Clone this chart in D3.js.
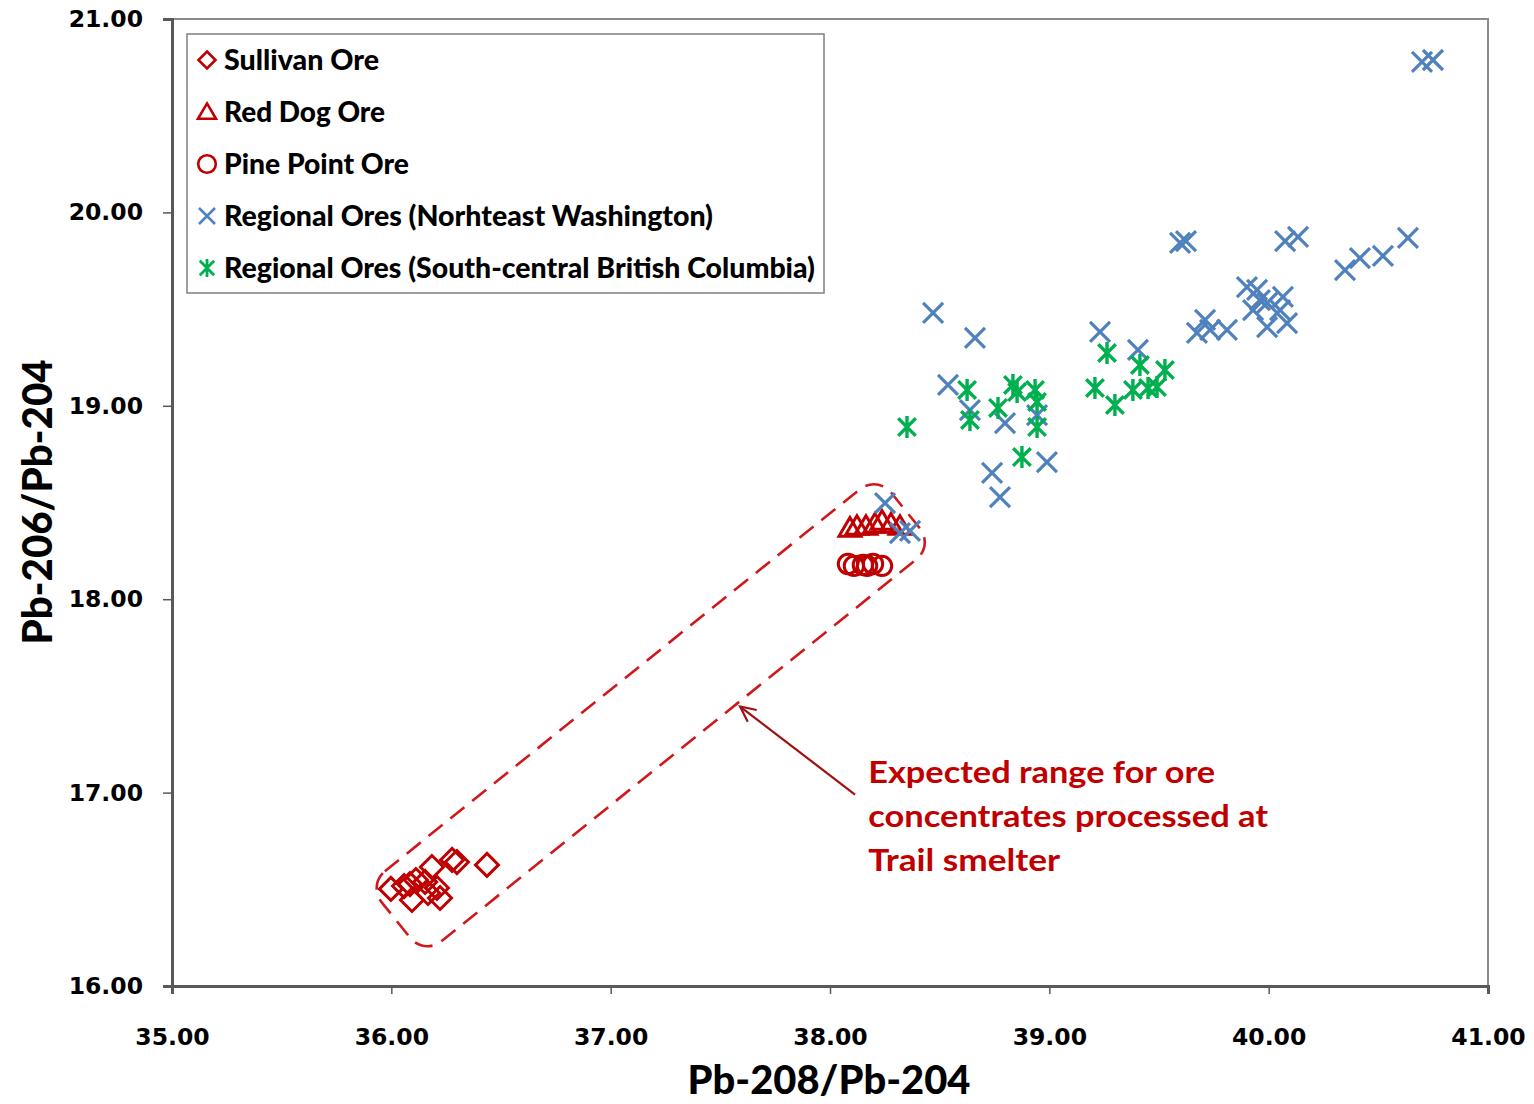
<!DOCTYPE html>
<html>
<head>
<meta charset="utf-8">
<script src="https://cdn.jsdelivr.net/npm/d3@7"></script>
<style>
  body { margin: 0; background: #fff; }
  svg { display: block; }
</style>
</head>
<body>
<svg id="chart" width="1534" height="1104"></svg>
<script>
// Data: [Pb-208/Pb-204, Pb-206/Pb-204]
const sullivan = [
  [35.998, 16.502], [36.058, 16.517], [36.085, 16.527], [36.112, 16.548],
  [36.094, 16.445], [36.154, 16.538], [36.185, 16.615], [36.208, 16.507],
  [36.222, 16.455], [36.277, 16.652], [36.299, 16.641], [36.436, 16.626],
  [36.167, 16.481]
];
const redDog = [
  [38.091, 18.368], [38.123, 18.378], [38.164, 18.378], [38.205, 18.389],
  [38.237, 18.404], [38.278, 18.389], [38.319, 18.378]
];
const pinePoint = [
  [38.082, 18.182], [38.109, 18.172], [38.150, 18.177], [38.169, 18.172],
  [38.196, 18.182], [38.237, 18.172]
];
const neWashington = [
  [38.251, 18.497], [38.319, 18.342], [38.365, 18.353],
  [38.470, 19.480], [38.538, 19.108], [38.638, 18.978], [38.661, 19.351],
  [38.798, 18.911], [38.944, 18.952], [38.739, 18.653], [38.775, 18.528],
  [38.989, 18.709], [39.231, 19.382], [39.404, 19.289],
  [39.596, 19.842], [39.623, 19.852], [40.075, 19.852], [40.134, 19.873],
  [40.348, 19.702], [40.416, 19.764], [40.521, 19.775], [40.635, 19.868],
  [40.699, 20.778], [40.749, 20.788],
  [39.710, 19.444], [39.673, 19.377], [39.733, 19.392], [39.810, 19.392],
  [39.901, 19.614], [39.947, 19.599], [39.960, 19.547], [39.929, 19.495],
  [39.993, 19.532], [40.065, 19.563], [40.052, 19.495], [39.993, 19.407],
  [40.084, 19.428]
];
const scBritishColumbia = [
  [38.351, 18.890], [38.625, 19.082], [38.638, 18.927], [38.766, 18.989],
  [38.834, 19.108], [38.853, 19.071], [38.935, 19.082], [38.944, 19.020],
  [38.944, 18.890], [38.875, 18.735], [39.208, 19.092], [39.263, 19.273],
  [39.299, 19.004], [39.381, 19.082], [39.413, 19.211], [39.450, 19.092],
  [39.491, 19.097], [39.527, 19.185]
];

const xTicks = [35, 36, 37, 38, 39, 40, 41];
const yTicks = [16, 17, 18, 19, 20, 21];

const seriesNames = [
  "Sullivan Ore",
  "Red Dog Ore",
  "Pine Point Ore",
  "Regional Ores (Norhteast Washington)",
  "Regional Ores (South-central British Columbia)"
];

// Dashed band around expected range (end centres, in data units)
const bandEnds = [[36.021, 16.341], [38.344, 18.459]];
// Arrow: tail -> head
const arrowPts = [[38.114, 16.99], [37.59, 17.445]];
const noteLines = ["Expected range for ore", "concentrates processed at", "Trail smelter"];

const svg = d3.select("#chart");
const red = "#C00000", blue = "#4F81BD", green = "#00B050";

const x = d3.scaleLinear().domain([35, 41]).range([172, 1488]);
const y = d3.scaleLinear().domain([16, 21]).range([986, 19]);

// plot border (top & right)
svg.append("path")
  .attr("d", `M${x(35)},${y(21)}H${x(41)}V${y(16)}`)
  .attr("fill", "none").attr("stroke", "#8c8c8c").attr("stroke-width", 2);

// axes
const xAxis = svg.append("g")
  .attr("transform", `translate(0,${y(16)})`)
  .call(d3.axisBottom(x).tickValues(xTicks).tickSize(8).tickPadding(34).tickFormat(d3.format(".2f")));
const yAxis = svg.append("g")
  .attr("transform", `translate(${x(35)},0)`)
  .call(d3.axisLeft(y).tickValues(yTicks).tickSize(9).tickPadding(20).tickFormat(d3.format(".2f")));

[xAxis, yAxis].forEach(g => {
  g.select(".domain").attr("stroke", "#595959").attr("stroke-width", 3);
  g.selectAll(".tick line").attr("stroke", "#595959").attr("stroke-width", 1.5);
  g.selectAll(".tick text")
    .attr("fill", "#000")
    .style("font-family", "'DejaVu Sans', Verdana, sans-serif")
    .style("font-weight", "bold")
    .style("font-size", "23.5px");
});

// axis titles
svg.append("text")
  .attr("x", 829).attr("y", 1094)
  .attr("text-anchor", "middle")
  .attr("textLength", 283).attr("lengthAdjust", "spacingAndGlyphs")
  .style("font-family", "Lato, sans-serif").style("font-weight", "900").style("font-size", "40px")
  .text("Pb-208/Pb-204");

svg.append("text")
  .attr("transform", "translate(52,502) rotate(-90)")
  .attr("text-anchor", "middle")
  .attr("textLength", 285).attr("lengthAdjust", "spacingAndGlyphs")
  .style("font-family", "Lato, sans-serif").style("font-weight", "900").style("font-size", "41px")
  .text("Pb-206/Pb-204");

// dashed band
const p0 = [x(bandEnds[0][0]), y(bandEnds[0][1])];
const p1 = [x(bandEnds[1][0]), y(bandEnds[1][1])];
const len = Math.hypot(p1[0] - p0[0], p1[1] - p0[1]);
const ang = Math.atan2(p1[1] - p0[1], p1[0] - p0[0]) * 180 / Math.PI;
const bandW = 90;
svg.append("rect")
  .attr("transform", `translate(${(p0[0] + p1[0]) / 2},${(p0[1] + p1[1]) / 2}) rotate(${ang})`)
  .attr("x", -len / 2).attr("y", -bandW / 2)
  .attr("width", len).attr("height", bandW)
  .attr("rx", 22).attr("ry", 22)
  .attr("fill", "none").attr("stroke", "#D0181C").attr("stroke-width", 2.6)
  .attr("stroke-dasharray", "18,10");

// marker shapes
function drawMarker(g, type, s, color, sw) {
  if (type === "diamond") {
    g.append("path").attr("d", `M0,${-s}L${s},0L0,${s}L${-s},0Z`)
      .attr("fill", "none").attr("stroke", color).attr("stroke-width", sw);
  } else if (type === "triangle") {
    g.append("path").attr("d", `M0,${-s * 0.95}L${s},${s * 0.75}L${-s},${s * 0.75}Z`)
      .attr("fill", "none").attr("stroke", color).attr("stroke-width", sw);
  } else if (type === "circle") {
    g.append("circle").attr("r", s * 0.88)
      .attr("fill", "none").attr("stroke", color).attr("stroke-width", sw);
  } else if (type === "x") {
    g.append("path").attr("d", `M${-s},${-s}L${s},${s}M${s},${-s}L${-s},${s}`)
      .attr("stroke", color).attr("stroke-width", sw);
  } else if (type === "star") {
    const a = s * 0.8;
    g.append("path").attr("d", `M${-a},${-a}L${a},${a}M${a},${-a}L${-a},${a}M0,${-s}V${s}`)
      .attr("stroke", color).attr("stroke-width", sw);
  }
}

const series = [
  { data: sullivan, type: "diamond", color: red, size: 11.5, sw: 3 },
  { data: redDog, type: "triangle", color: red, size: 11, sw: 3 },
  { data: pinePoint, type: "circle", color: red, size: 11, sw: 3 },
  { data: neWashington, type: "x", color: blue, size: 10, sw: 3.2 },
  { data: scBritishColumbia, type: "star", color: green, size: 11, sw: 3.4 }
];

series.forEach(s => {
  svg.append("g").selectAll("g")
    .data(s.data)
    .enter()
    .append("g")
    .attr("transform", d => `translate(${x(d[0])},${y(d[1])})`)
    .each(function () { drawMarker(d3.select(this), s.type, s.size, s.color, s.sw); });
});

// arrow
const a0 = [x(arrowPts[0][0]), y(arrowPts[0][1])];
const a1 = [x(arrowPts[1][0]), y(arrowPts[1][1])];
svg.append("line")
  .attr("x1", a0[0]).attr("y1", a0[1]).attr("x2", a1[0]).attr("y2", a1[1])
  .attr("stroke", "#A01010").attr("stroke-width", 2.2);
const th = Math.atan2(a0[1] - a1[1], a0[0] - a1[0]);
const headLen = 17, spread = 0.45;
svg.append("path")
  .attr("d", `M${a1[0] + headLen * Math.cos(th - spread)},${a1[1] + headLen * Math.sin(th - spread)}` +
             `L${a1[0]},${a1[1]}` +
             `L${a1[0] + headLen * Math.cos(th + spread)},${a1[1] + headLen * Math.sin(th + spread)}`)
  .attr("fill", "none").attr("stroke", "#A01010").attr("stroke-width", 2.2);

// note text
const noteWidths = [347, 400, 192];
svg.append("g").selectAll("text")
  .data(noteLines)
  .enter()
  .append("text")
  .attr("x", x(38.174))
  .attr("y", (d, i) => y(17.05) + i * 44)
  .attr("textLength", (d, i) => noteWidths[i]).attr("lengthAdjust", "spacingAndGlyphs")
  .attr("fill", red)
  .style("font-family", "Lato, sans-serif").style("font-weight", "bold").style("font-size", "31px")
  .text(d => d);

// legend
const legend = svg.append("g");
legend.append("rect")
  .attr("x", 187).attr("y", 34).attr("width", 637).attr("height", 259)
  .attr("fill", "#fff").attr("stroke", "#7f7f7f").attr("stroke-width", 1.5);
const legWidths = [155, 161, 185, 489, 591];
const legMarker = [
  { type: "diamond", size: 8.5, sw: 2.6 }, { type: "triangle", size: 9, sw: 2.6 },
  { type: "circle", size: 10, sw: 2.6 }, { type: "x", size: 8, sw: 2.6 }, { type: "star", size: 9, sw: 2.8 }
];
seriesNames.forEach((name, i) => {
  const cy = 60 + i * 52;
  const g = legend.append("g").attr("transform", `translate(207,${cy})`);
  drawMarker(g, legMarker[i].type, legMarker[i].size, series[i].color, legMarker[i].sw);
  legend.append("text")
    .attr("x", 224).attr("y", cy + 10)
    .attr("textLength", legWidths[i]).attr("lengthAdjust", "spacingAndGlyphs")
    .style("font-family", "Lato, sans-serif").style("font-weight", "900").style("font-size", "28px")
    .text(name);
});
</script>
</body>
</html>
